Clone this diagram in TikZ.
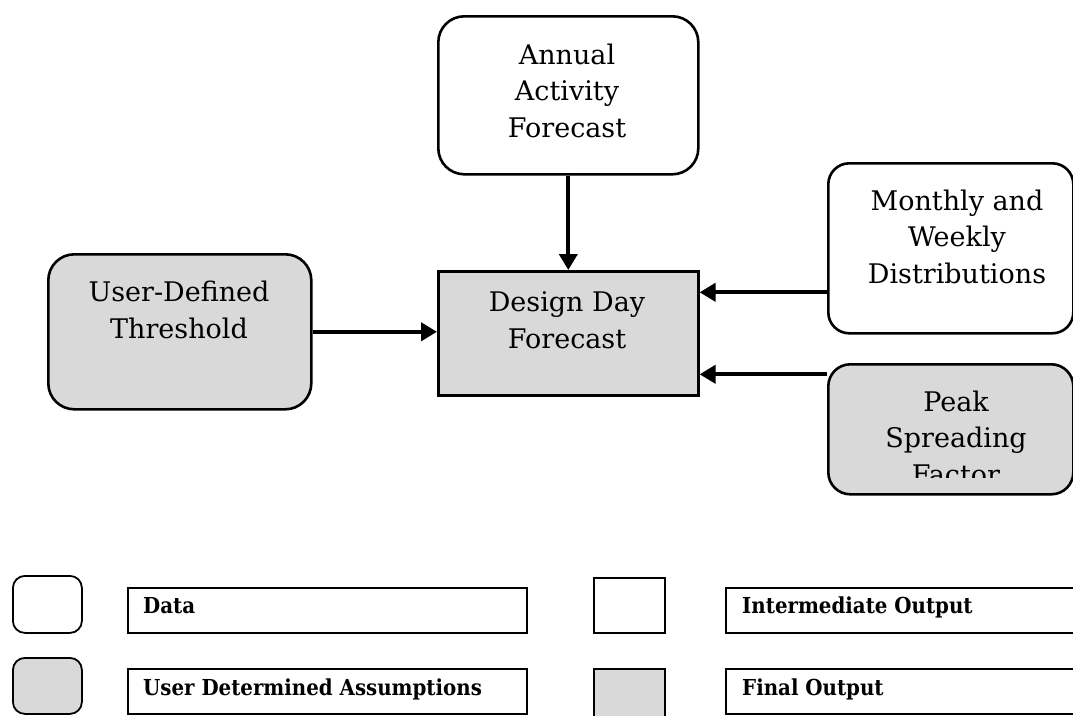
\documentclass[tikz,border=0pt]{standalone}
\usepackage{fontspec}
\setmainfont{DejaVu Serif}
\newfontfamily\legendfont[FakeStretch=0.9]{DejaVu Serif}
\usetikzlibrary{arrows.meta,calc}

\definecolor{boxgray}{HTML}{D9D9D9}

\tikzset{
  flowbox/.style={draw, line width=2.6pt, inner sep=0pt, anchor=north west},
  roundbox/.style={flowbox, rounded corners=#1},
  roundbox/.default=26pt,
  shaded/.style={fill=boxgray},
  boxtext/.style={font=\fontsize{27pt}{36.5pt}\selectfont, align=center, anchor=base, inner sep=0pt},
  flowarrow/.style={line width=4pt, -{Triangle[length=16pt,width=18pt]}},
  keybox/.style={draw, line width=1.8pt, inner sep=0pt, anchor=north west},
  keytext/.style={font=\legendfont\bfseries\fontsize{22pt}{26pt}\selectfont, anchor=base west, inner sep=0pt},
}

\begin{document}
\begin{tikzpicture}[x=1pt, y=-1pt]
\clip (0,0) rectangle (1073,715);
\fill[white] (0,0) rectangle (1073,715);

% main flow boxes
\node[roundbox, minimum width=260pt, minimum height=158pt] (annual) at (437,15) {};
\node[flowbox, shaded, minimum width=260pt, minimum height=124pt] (design) at (437,270) {};
\node[roundbox, shaded, minimum width=263pt, minimum height=155pt] (user) at (47,253) {};
\node[roundbox=21pt, minimum width=245pt, minimum height=170pt] (monthly) at (827,162) {};
\node[roundbox=22pt, shaded, minimum width=245pt, minimum height=130pt] (peak) at (827,363) {};

% box labels (anchored at the baseline of the last line)
\node[boxtext] (annualtxt) at (567,137) {Annual\\Activity\\Forecast};
\node[boxtext] (designtxt) at (567,348) {Design Day\\Forecast};
\node[boxtext] (usertxt) at (179,338) {User-Defined\\Threshold};
\node[boxtext] (monthlytxt) at (957,283) {Monthly and\\Weekly\\Distributions};
\begin{scope}
  \clip (827,363) rectangle (1073,477);
  \node[boxtext] (peaktxt) at (956,484) {Peak\\Spreading\\Factor};
\end{scope}

% connectors into the design day box
\coordinate (inMonthly) at ([yshift=41pt]design.east);
\coordinate (inPeak) at ([yshift=-41pt]design.east);
\draw[flowarrow] (annual.south) -- (design.north);
\draw[flowarrow] (user.east) -- (user.east -| design.west);
\draw[flowarrow] (monthly.west |- inMonthly) -- (inMonthly);
\draw[flowarrow] (peak.west |- inPeak) -- (inPeak);

% key
\node[keybox, rounded corners=12pt, minimum width=69pt, minimum height=57pt] (keyData) at (12,575) {};
\node[keybox, rounded corners=12pt, shaded, minimum width=69pt, minimum height=56pt] (keyUser) at (12,657) {};
\node[keybox, minimum width=399pt, minimum height=45pt] (keyDataLbl) at (127,587) {};
\node[keybox, minimum width=399pt, minimum height=45pt] (keyUserLbl) at (127,668) {};
\node[keybox, minimum width=71pt, minimum height=55pt] (keyInter) at (593,577) {};
\node[keybox, shaded, minimum width=71pt, minimum height=60pt] (keyFinal) at (593,668) {};
\node[keybox, minimum width=360pt, minimum height=45pt] (keyInterLbl) at (725,587) {};
\node[keybox, minimum width=360pt, minimum height=45pt] (keyFinalLbl) at (725,668) {};

\node[keytext] (tData) at (143,613) {Data};
\node[keytext] (tUser) at (143,695) {User Determined Assumptions};
\node[keytext] (tInter) at (742,613) {Intermediate Output};
\node[keytext] (tFinal) at (742,695) {Final Output};
\end{tikzpicture}
\end{document}
